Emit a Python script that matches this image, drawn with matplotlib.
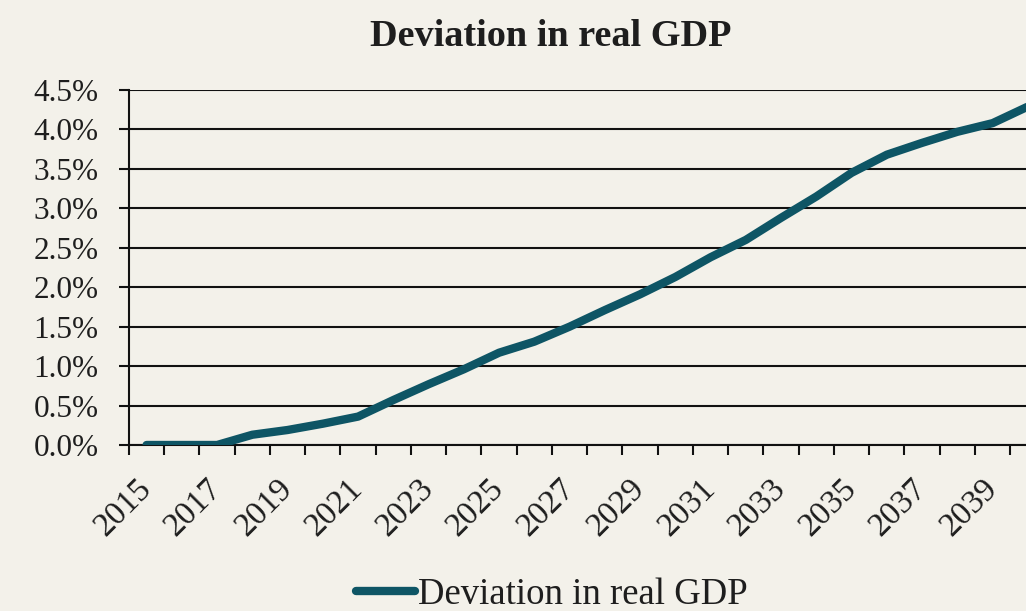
import numpy as np
import matplotlib
matplotlib.use("Agg")
import matplotlib.pyplot as plt

plt.rcParams['font.family'] = ['Liberation Serif', 'DejaVu Serif']

# 실질 GDP 편차 (%)
years = list(range(2015, 2041))
deviation = [0.00, 0.00, 0.00, 0.13, 0.19, 0.27, 0.36, 0.57, 0.77, 0.96,
             1.17, 1.31, 1.50, 1.71, 1.91, 2.13, 2.38, 2.60, 2.88, 3.15,
             3.45, 3.68, 3.83, 3.97, 4.08, 4.29]
y_ticks = [0.0, 0.5, 1.0, 1.5, 2.0, 2.5, 3.0, 3.5, 4.0, 4.5]

BG = '#f3f1ea'
LINE = '#0e5565'
TXT = '#1e1e1e'

fig = plt.figure(figsize=(10.26, 6.11), dpi=100, facecolor=BG)
# 오른쪽은 그림 밖으로 약간 나가게 (마지막 해 잘림)
ax = fig.add_axes([0.1257, 0.2717, 0.8933, 0.581], facecolor=BG)

x = np.arange(len(years))
ax.plot(x, deviation, color=LINE, lw=6, solid_capstyle='round',
        solid_joinstyle='round', label='Deviation in real GDP', zorder=3)

ax.set_xlim(-0.5, len(years) - 0.5)
ax.set_ylim(0, 4.5)

ax.set_yticks(y_ticks)
ax.set_yticklabels([f"{v:.1f}%" for v in y_ticks], fontsize=22.5, color=TXT)
ax.yaxis.grid(True, color='#111111', lw=1.5)
ax.tick_params(axis='y', length=7, width=1.5, color='#111111', pad=15)

# 눈금은 카테고리 경계에, 라벨은 가운데에
ax.set_xticks(np.arange(-0.5, len(years)), minor=True)
ax.set_xticks(x[::2])
ax.set_xticklabels([str(y) for y in years[::2]], rotation=45, ha='right',
                   va='center', rotation_mode='anchor', fontsize=24, color=TXT)
ax.tick_params(axis='x', which='major', length=0, pad=28)
ax.tick_params(axis='x', which='minor', length=7, width=1.5, color='#111111')

for side in ['top', 'right']:
    ax.spines[side].set_visible(False)
for side in ['left', 'bottom']:
    ax.spines[side].set_color('#111111')
    ax.spines[side].set_linewidth(1.5)

fig.text(551 / 1026, 1 - 37 / 611, 'Deviation in real GDP', ha='center',
         va='center', fontsize=27.5, fontweight='bold', color=TXT)

fig.legend(loc='center', bbox_to_anchor=(552 / 1026, 1 - 595 / 611),
           frameon=False, fontsize=26.5, handlelength=1.6, handletextpad=0.1,
           labelcolor=TXT)

fig.savefig('out.png', dpi=100, facecolor=BG)
